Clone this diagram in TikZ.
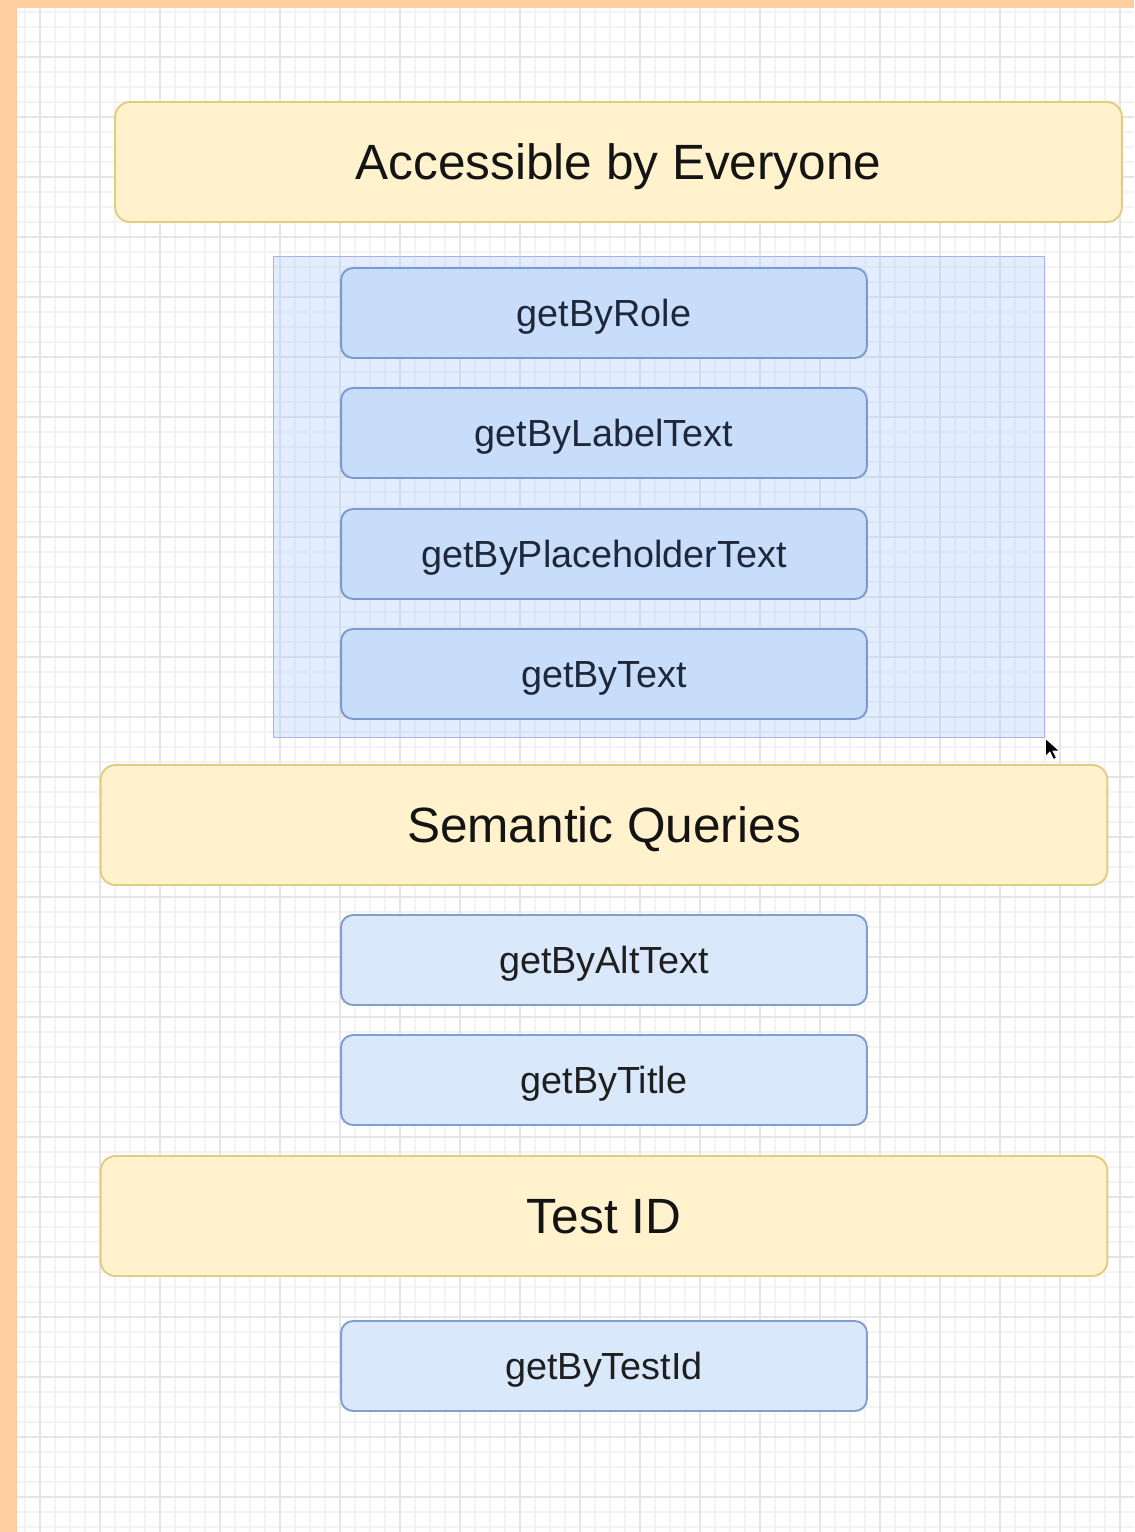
\documentclass[tikz,border=0pt]{standalone}
\usepackage{fontspec}
\setmainfont{Liberation Sans}

\definecolor{frame}{RGB}{255,207,160}
\definecolor{minorgrid}{RGB}{243,243,243}
\definecolor{majorgrid}{RGB}{229,229,229}
\definecolor{groupfill}{RGB}{255,242,204}
\definecolor{groupline}{RGB}{226,204,128}
\definecolor{queryfill}{RGB}{218,232,252}
\definecolor{queryline}{RGB}{128,158,206}
\definecolor{pickedfill}{RGB}{199,221,249}
\definecolor{pickedline}{RGB}{124,154,208}
\definecolor{pickedtext}{RGB}{30,40,58}
\definecolor{selfill}{RGB}{168,202,250}
\definecolor{selline}{RGB}{168,180,232}

\begin{document}
\begin{tikzpicture}[x=0.02cm, y=0.02cm]
      \tikzstyle{every node}+=[inner sep=0pt]
      \tikzstyle{group}=[draw=groupline, fill=groupfill, line width=1.1pt, rounded corners=0.3cm,
        minimum width=20.14cm, minimum height=2.4cm, font=\fontsize{28.2}{32}\selectfont,
        text=black!92, text height=20.2pt, text depth=0pt]
      \tikzstyle{query}=[draw=queryline, fill=queryfill, line width=1.1pt, rounded corners=0.24cm,
        minimum width=10.52cm, minimum height=1.8cm, font=\fontsize{21.5}{25}\selectfont,
        text=black!88, text height=15.4pt, text depth=0pt]
      \tikzstyle{picked}=[query, draw=pickedline, fill=pickedfill, text=pickedtext]
      \useasboundingbox (0,0) rectangle (1134,-1532);
      \fill [white] (0,0) rectangle (1134,-1532);
      % grid paper
      \foreach \x in {25,40,...,1134} \draw [minorgrid, line width=0.6pt] (\x,0) -- (\x,-1532);
      \foreach \y in {12,27,...,1532} \draw [minorgrid, line width=0.6pt] (0,-\y) -- (1134,-\y);
      \foreach \x in {40,100,...,1134} \draw [majorgrid, line width=0.7pt] (\x,0) -- (\x,-1532);
      \foreach \y in {57,117,...,1532} \draw [majorgrid, line width=0.7pt] (0,-\y) -- (1134,-\y);
      \fill [frame] (0,0) rectangle (1134,-8);
      \fill [frame] (0,0) rectangle (17,-1532);
      % selection behind the first four
      \node [draw=selline, fill=selfill, fill opacity=0.33, line width=0.6pt,
        minimum width=15.44cm, minimum height=9.64cm] (selection) at (659,-497) {};
      % headings
      \node [group] (access) at (618.5,-162) {Accessible by Everyone};
      \node [group] (semantic) at (604,-825) {Semantic Queries};
      \node [group] (testid) at (604,-1216) {Test ID};
      % queries
      \node [picked] (role) at (604,-313) {getByRole};
      \node [picked] (label) at (604,-433) {getByLabelText};
      \node [picked] (placeholder) at (604,-554) {getByPlaceholderText};
      \node [picked] (text) at (604,-674) {getByText};
      \node [query] (alt) at (604,-960) {getByAltText};
      \node [query] (title) at (604,-1080) {getByTitle};
      \node [query] (testidq) at (604,-1366) {getByTestId};
      % mouse pointer
      \coordinate (pointer) at (selection.south east);
      \filldraw [black, draw=white, line width=0.4pt] (pointer) -- ++(0,-18) -- ++(4.5,4.5)
        -- ++(3.5,-7.5) -- ++(3,1.5) -- ++(-3.5,7) -- ++(6.5,0) -- cycle;
    \end{tikzpicture}
\end{document}
